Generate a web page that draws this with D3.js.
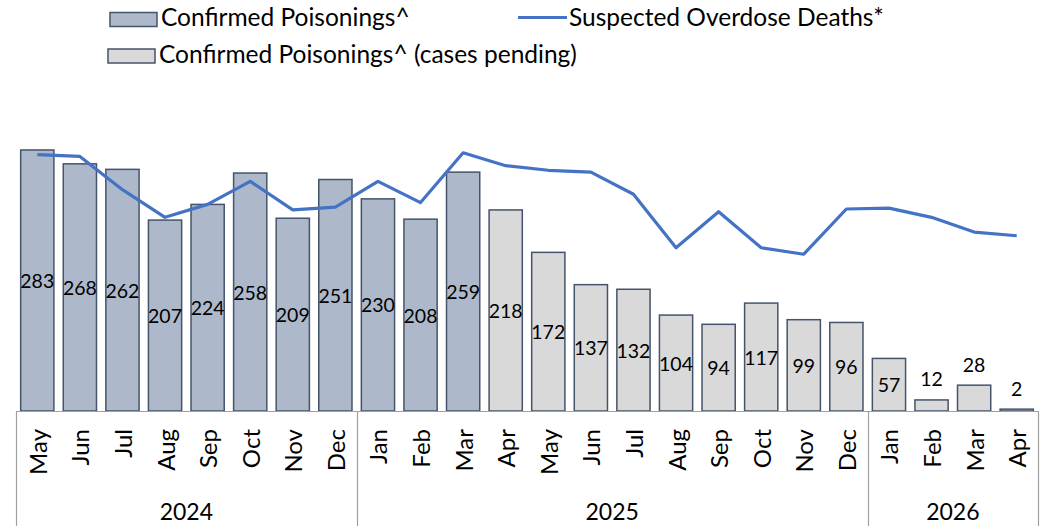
<!DOCTYPE html>
<html>
<head>
<meta charset="utf-8">
<script src="https://cdn.jsdelivr.net/npm/d3@7"></script>
<style>
  body { margin: 0; background: #fff; }
  text { font-family: Lato, "Liberation Sans", sans-serif; fill: #000; }
</style>
</head>
<body>
<div id="chart"></div>
<script>
// month labels, one per bar
const months = ["May", "Jun", "Jul", "Aug", "Sep", "Oct", "Nov", "Dec",
  "Jan", "Feb", "Mar", "Apr", "May", "Jun", "Jul", "Aug", "Sep", "Oct", "Nov", "Dec",
  "Jan", "Feb", "Mar", "Apr"];
// year groups on the second axis level
const years = ["2024", "2025", "2026"];
const monthsPerYear = [8, 12, 4];

const poisonings = [283, 268, 262, 207, 224, 258, 209, 251, 230, 208, 259,
  218, 172, 137, 132, 104, 94, 117, 99, 96, 57, 12, 28, 2];
// first 11 months confirmed, the rest still have cases pending
const status = ["confirmed", "confirmed", "confirmed", "confirmed", "confirmed",
  "confirmed", "confirmed", "confirmed", "confirmed", "confirmed", "confirmed",
  "pending", "pending", "pending", "pending", "pending", "pending", "pending",
  "pending", "pending", "pending", "pending", "pending", "pending"];
const deaths = [278, 276, 240, 210, 224, 249, 218, 221, 249, 226, 280,
  266, 261, 259, 235, 177, 216, 177, 170, 219, 220, 210, 194, 190];

const W = 1045, H = 526;
const left = 16, right = 1038, base = 411;

const colors = {
  confirmed: "#ADB9CA",
  pending: "#D9D9D9",
  barStroke: "#44546A",
  line: "#4472C4",
  axis: "#A0A0A0"
};

const data = months.map((m, i) => ({
  i: i, month: m, value: poisonings[i], deaths: deaths[i], status: status[i]
}));

const svg = d3.select("#chart").append("svg")
  .attr("width", W).attr("height", H);

const x = d3.scaleBand()
  .domain(d3.range(months.length))
  .range([left, right])
  .paddingInner(0.22)
  .paddingOuter(0.11);

const y = d3.scaleLinear()
  .domain([0, 300])
  .range([base, base - 300 * 0.9223]);

// bars
svg.append("g")
  .selectAll("rect")
  .data(data)
  .join("rect")
  .attr("x", d => x(d.i))
  .attr("y", d => y(d.value))
  .attr("width", x.bandwidth())
  .attr("height", d => y(0) - y(d.value))
  .attr("fill", d => colors[d.status])
  .attr("stroke", colors.barStroke)
  .attr("stroke-width", 1.5);

// data labels: inside centre, above the bar when it's too short
svg.append("g")
  .selectAll("text")
  .data(data)
  .join("text")
  .attr("x", d => x(d.i) + x.bandwidth() / 2)
  .attr("y", d => {
    const h = y(0) - y(d.value);
    return h > 40 ? y(d.value) + h / 2 : y(d.value) - 21;
  })
  .attr("text-anchor", "middle")
  .attr("dominant-baseline", "central")
  .style("font-size", "19.5px")
  .text(d => d.value);

// suspected deaths line
const line = d3.line()
  .x(d => x(d.i) + x.bandwidth() / 2)
  .y(d => y(d.deaths));

svg.append("path")
  .datum(data)
  .attr("d", line)
  .attr("fill", "none")
  .attr("stroke", colors.line)
  .attr("stroke-width", 3.2)
  .attr("stroke-linejoin", "round");

// category axis
const gAxis = svg.append("g");
gAxis.append("line")
  .attr("x1", left).attr("x2", right)
  .attr("y1", base + 0.5).attr("y2", base + 0.5)
  .attr("stroke", colors.axis).attr("stroke-width", 1.2);

gAxis.selectAll(".month")
  .data(data)
  .join("text")
  .attr("class", "month")
  .attr("transform", d => `translate(${x(d.i) + x.bandwidth() / 2},429) rotate(-90)`)
  .attr("text-anchor", "end")
  .attr("dominant-baseline", "central")
  .style("font-size", "24px")
  .text(d => d.month);

// year groups and separators
const step = x.step();
let start = 0;
const edges = [left];
years.forEach((yr, k) => {
  const x0 = left + start * step;
  const x1 = left + (start + monthsPerYear[k]) * step;
  edges.push(x1);
  gAxis.append("text")
    .attr("x", (x0 + x1) / 2)
    .attr("y", 520)
    .attr("text-anchor", "middle")
    .style("font-size", "23px")
    .text(yr);
  start += monthsPerYear[k];
});

gAxis.selectAll(".sep")
  .data(edges)
  .join("line")
  .attr("class", "sep")
  .attr("x1", d => Math.round(d) + 0.5).attr("x2", d => Math.round(d) + 0.5)
  .attr("y1", base).attr("y2", H)
  .attr("stroke", colors.axis).attr("stroke-width", 1.2);

// legend
const legend = svg.append("g").style("font-size", "24.5px");

legend.append("rect")
  .attr("x", 110).attr("y", 12.5).attr("width", 47).attr("height", 14)
  .attr("fill", colors.confirmed).attr("stroke", colors.barStroke).attr("stroke-width", 1.5);
legend.append("text").attr("x", 161).attr("y", 26).text("Confirmed Poisonings^");

legend.append("rect")
  .attr("x", 108).attr("y", 49).attr("width", 47).attr("height", 14)
  .attr("fill", colors.pending).attr("stroke", colors.barStroke).attr("stroke-width", 1.5);
legend.append("text").attr("x", 159).attr("y", 63).text("Confirmed Poisonings^ (cases pending)");

legend.append("line")
  .attr("x1", 518).attr("x2", 567).attr("y1", 17.5).attr("y2", 17.5)
  .attr("stroke", colors.line).attr("stroke-width", 3);
legend.append("text").attr("x", 569).attr("y", 26).text("Suspected Overdose Deaths*");
</script>
</body>
</html>
